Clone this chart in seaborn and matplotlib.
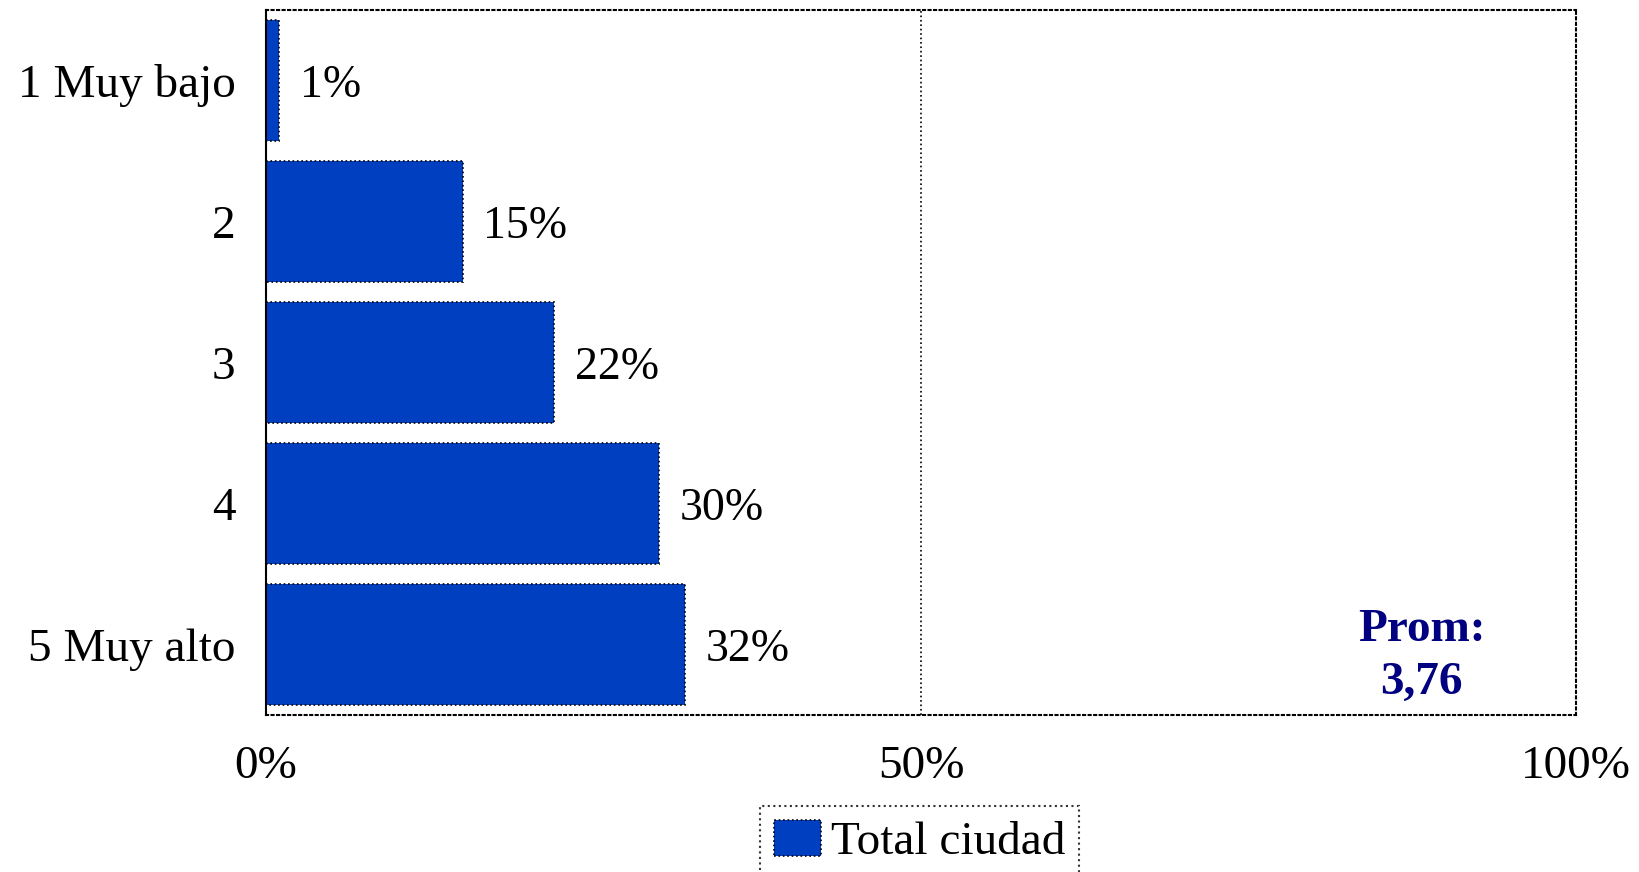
import matplotlib
matplotlib.use("Agg")
import matplotlib.pyplot as plt
import seaborn as sns
import pandas as pd

sns.set_theme(style="white")
plt.rcParams['font.family'] = ['Liberation Serif', 'DejaVu Serif']
plt.rcParams['text.color'] = 'black'

categories = ["1 Muy bajo", "2", "3", "4", "5 Muy alto"]
values = [1, 15, 22, 30, 32]
series_name = "Total ciudad"
xticks = [0, 50, 100]
xtick_labels = ["0%", "50%", "100%"]
promedio = "Prom:\n3,76"

df = pd.DataFrame({"cat": categories, "pct": values})

fig = plt.figure(figsize=(16.39, 8.72), dpi=100)
ax = fig.add_axes([0.1623, 0.18, 0.7993, 0.8085])

sns.barplot(data=df, x="pct", y="cat", orient="h", color="#0040C0",
            saturation=1, width=0.86, edgecolor="black", linewidth=1.2,
            linestyle=":", ax=ax, label=series_name)

for p, v in zip(ax.patches, values):
    ax.annotate(f"{v}%", (p.get_width(), p.get_y() + p.get_height() / 2),
                xytext=(15, 0), textcoords="offset points",
                va="center_baseline", ha="left", fontsize=33, color="black")

ax.set_xlim(0, 100)
ax.set_xticks(xticks)
ax.set_xticklabels(xtick_labels, fontsize=34)
ax.tick_params(axis="y", labelsize=34, pad=22, length=0, labelcolor="black")
ax.tick_params(axis="x", pad=22, length=0, labelcolor="black")
ax.set_xlabel("")
ax.set_ylabel("")
ax.axvline(50, color="black", linestyle=":", linewidth=1.2, zorder=0)

for side in ["top", "right", "bottom"]:
    ax.spines[side].set_linestyle(":")
    ax.spines[side].set_linewidth(1.5)
    ax.spines[side].set_color("black")
ax.spines["left"].set_color("black")
ax.spines["left"].set_linewidth(1.5)

ax.text(0.882, 0.083, promedio, transform=ax.transAxes, ha="center",
        va="center", fontsize=34, fontweight="bold", color="#000080",
        linespacing=1.35)

handles, labels = ax.get_legend_handles_labels()
if ax.get_legend() is not None:
    ax.get_legend().remove()
leg = fig.legend(handles, labels, loc="upper center",
                 bbox_to_anchor=(0.561, 0.076), fontsize=34, frameon=True,
                 fancybox=False, handlelength=1.0, handleheight=0.8,
                 handletextpad=0.2, borderpad=0.3, borderaxespad=0,
                 labelcolor="black")
leg.get_frame().set_edgecolor("black")
leg.get_frame().set_linestyle(":")
leg.get_frame().set_linewidth(1.5)

fig.savefig("out.png", dpi=100)
